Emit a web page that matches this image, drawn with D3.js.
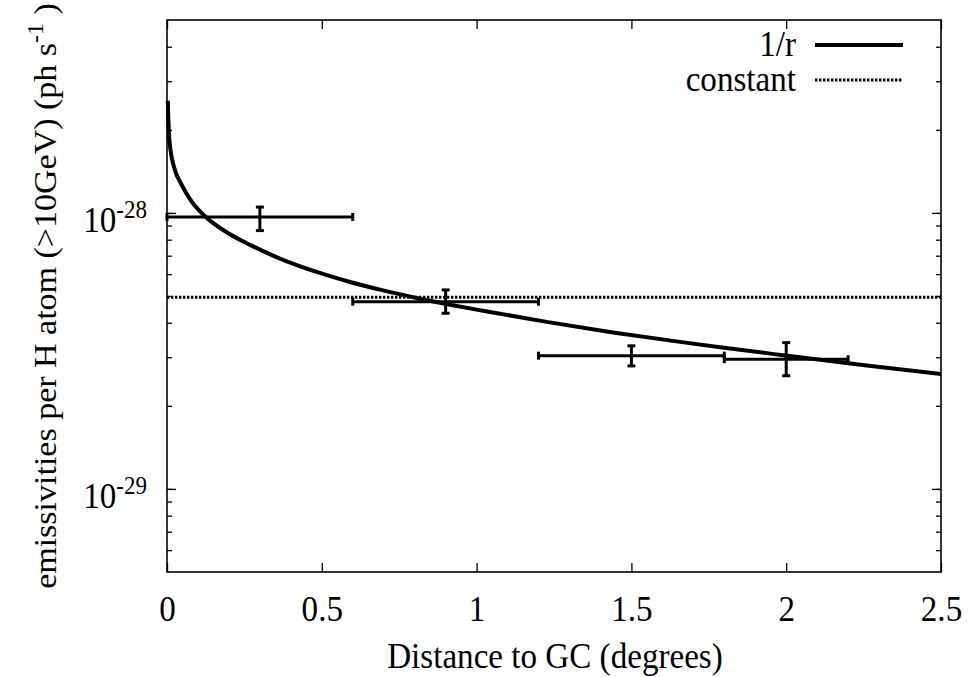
<!DOCTYPE html>
<html>
<head>
<meta charset="utf-8">
<script src="https://cdn.jsdelivr.net/npm/d3@7"></script>
<style>
  body { margin: 0; background: #fff; }
  text { font-family: "Liberation Serif", "Times New Roman", serif; fill: #000; }
</style>
</head>
<body>
<div id="chart"></div>
<script>
// data points with error bars
var ptX = [0.3, 0.9, 1.5, 2.0];
var ptXLo = [0.0, 0.6, 1.2, 1.8];
var ptXHi = [0.6, 1.2, 1.8, 2.2];
var ptY = [9.67e-29, 4.77e-29, 3.04e-29, 2.95e-29];
var ptYLo = [8.63e-29, 4.33e-29, 2.79e-29, 2.57e-29];
var ptYHi = [1.05e-28, 5.26e-29, 3.30e-29, 3.39e-29];

// 1/r curve
var curveX = [0.0026, 0.0042, 0.0065, 0.0113, 0.0236, 0.0475, 0.0798, 0.1227, 0.2035, 0.2681, 0.3747, 0.4835, 0.5911, 0.6977, 0.8065, 0.9141, 1.0207, 1.2264, 1.4406, 1.6570, 1.7862, 1.9897, 2.2600, 2.5];
var curveY = [2.55e-28, 2.21e-28, 1.92e-28, 1.69e-28, 1.456e-28, 1.263e-28, 1.099e-28, 9.73e-29, 8.37e-29, 7.66e-29, 6.76e-29, 6.11e-29, 5.62e-29, 5.24e-29, 4.92e-29, 4.65e-29, 4.42e-29, 4.03e-29, 3.69e-29, 3.41e-29, 3.26e-29, 3.05e-29, 2.80e-29, 2.61e-29];
var constY = 4.95e-29;

var xTicks = [0, 0.5, 1, 1.5, 2, 2.5];
var yMajor = [1e-29, 1e-28];
var yMajorExp = ["-29", "-28"];
var legendNames = ["1/r", "constant"];

var width = 973, height = 677;
var pLeft = 167, pRight = 941, pTop = 20, pBottom = 572;
var fontSize = 36;
var squeeze = 0.92;

var svg = d3.select("#chart").append("svg")
    .attr("width", width)
    .attr("height", height);

var x = d3.scaleLinear().domain([0, 2.5]).range([pLeft, pRight]);
var y = d3.scaleLog().domain([5e-30, 5e-28]).range([pBottom, pTop]);

var yMinor = y.ticks().filter(function(d) {
  return yMajor.indexOf(d) < 0 && d > 5e-30 && d < 5e-28;
});

// x axes
var xAxis = d3.axisBottom(x).tickValues(xTicks).tickSize(-9).tickPadding(23)
    .tickFormat(d3.format(""));
svg.append("g").attr("class", "xAxis")
    .attr("transform", `translate(0, ${pBottom})`)
    .call(xAxis);
svg.append("g").attr("class", "xAxisTop")
    .attr("transform", `translate(0, ${pTop})`)
    .call(d3.axisTop(x).tickValues(xTicks).tickSize(-9).tickFormat(""));

// y axes
svg.append("g").attr("class", "yAxis")
    .attr("transform", `translate(${pLeft}, 0)`)
    .call(d3.axisLeft(y).tickValues(yMajor).tickSize(-9).tickFormat(""));
svg.append("g").attr("class", "yAxisMinor")
    .attr("transform", `translate(${pLeft}, 0)`)
    .call(d3.axisLeft(y).tickValues(yMinor).tickSize(-5).tickFormat(""));
svg.append("g").attr("class", "yAxisR")
    .attr("transform", `translate(${pRight}, 0)`)
    .call(d3.axisRight(y).tickValues(yMajor).tickSize(-9).tickFormat(""));
svg.append("g").attr("class", "yAxisRMinor")
    .attr("transform", `translate(${pRight}, 0)`)
    .call(d3.axisRight(y).tickValues(yMinor).tickSize(-5).tickFormat(""));

svg.selectAll(".domain").remove();
svg.selectAll(".tick line").attr("stroke", "#000").attr("stroke-width", 1.3);
svg.selectAll(".xAxis text")
    .attr("font-size", fontSize)
    .attr("font-family", "Liberation Serif")
    .attr("fill", "#000")
    .attr("transform", `scale(${squeeze}, 1)`);

// y tick labels with exponents
var yLab = svg.append("g").selectAll("text").data(yMajor).enter()
    .append("text")
    .attr("transform", function(d) {
      return `translate(147, ${y(d) + 19}) scale(${squeeze}, 1)`;
    })
    .attr("text-anchor", "end")
    .attr("font-size", fontSize);
yLab.append("tspan").text("10");
yLab.append("tspan")
    .attr("dy", -14)
    .attr("font-size", 25)
    .text(function(d, i) { return yMajorExp[i]; });

// frame
svg.append("rect")
    .attr("x", pLeft).attr("y", pTop)
    .attr("width", pRight - pLeft).attr("height", pBottom - pTop)
    .attr("fill", "none")
    .attr("stroke", "#000")
    .attr("stroke-width", 1.6);

var plot = svg.append("g");

// constant line
plot.append("line")
    .attr("x1", x(0)).attr("x2", x(2.5))
    .attr("y1", y(constY)).attr("y2", y(constY))
    .attr("stroke", "#000")
    .attr("stroke-width", 3)
    .attr("stroke-dasharray", "2.4,1.6");

// 1/r curve
var line = d3.line()
    .x(function(d) { return x(d[0]); })
    .y(function(d) { return y(d[1]); })
    .curve(d3.curveMonotoneX);
plot.append("path")
    .datum(d3.zip(curveX, curveY))
    .attr("d", line)
    .attr("fill", "none")
    .attr("stroke", "#000")
    .attr("stroke-width", 4);

// error bars
var bars = plot.selectAll("g.bar").data(ptX).enter().append("g").attr("class", "bar");
bars.append("line")
    .attr("x1", function(d, i) { return x(ptXLo[i]); })
    .attr("x2", function(d, i) { return x(ptXHi[i]); })
    .attr("y1", function(d, i) { return y(ptY[i]); })
    .attr("y2", function(d, i) { return y(ptY[i]); });
bars.append("line")
    .attr("x1", function(d) { return x(d); })
    .attr("x2", function(d) { return x(d); })
    .attr("y1", function(d, i) { return y(ptYLo[i]); })
    .attr("y2", function(d, i) { return y(ptYHi[i]); });
[ptYLo, ptYHi].forEach(function(arr) {
  bars.append("line")
      .attr("x1", function(d) { return x(d) - 4; })
      .attr("x2", function(d) { return x(d) + 4; })
      .attr("y1", function(d, i) { return y(arr[i]); })
      .attr("y2", function(d, i) { return y(arr[i]); });
});
[ptXLo, ptXHi].forEach(function(arr) {
  bars.append("line")
      .attr("x1", function(d, i) { return x(arr[i]); })
      .attr("x2", function(d, i) { return x(arr[i]); })
      .attr("y1", function(d, i) { return y(ptY[i]) - 4; })
      .attr("y2", function(d, i) { return y(ptY[i]) + 4; });
});
bars.selectAll("line").attr("stroke", "#000").attr("stroke-width", 3);

// legend
var legend = svg.append("g").selectAll("g").data(legendNames).enter().append("g")
    .attr("transform", function(d, i) { return `translate(0, ${45 + i * 35})`; });
legend.append("text")
    .attr("transform", `translate(796, 11) scale(${squeeze}, 1)`)
    .attr("text-anchor", "end")
    .attr("font-size", fontSize)
    .text(function(d) { return d; });
legend.append("line")
    .attr("x1", 815).attr("x2", 903)
    .attr("y1", 0).attr("y2", 0)
    .attr("stroke", "#000")
    .attr("stroke-width", function(d, i) { return i === 0 ? 4 : 3; })
    .attr("stroke-dasharray", function(d, i) { return i === 0 ? null : "2.4,1.6"; });

// axis titles
svg.append("text")
    .attr("transform", `translate(${(pLeft + pRight) / 2 + 1}, 668) scale(${squeeze}, 1)`)
    .attr("text-anchor", "middle")
    .attr("font-size", fontSize)
    .text("Distance to GC (degrees)");

var yTitle = svg.append("text")
    .attr("transform", `translate(56, ${(pTop + pBottom) / 2}) rotate(-90) scale(1, ${squeeze})`)
    .attr("text-anchor", "middle")
    .attr("font-size", 34);
yTitle.append("tspan").text("emissivities per H atom (>10GeV) (ph s");
yTitle.append("tspan").attr("dy", -14).attr("font-size", 24).text("-1");
yTitle.append("tspan").attr("dy", 14).text(" )");
</script>
</body>
</html>
